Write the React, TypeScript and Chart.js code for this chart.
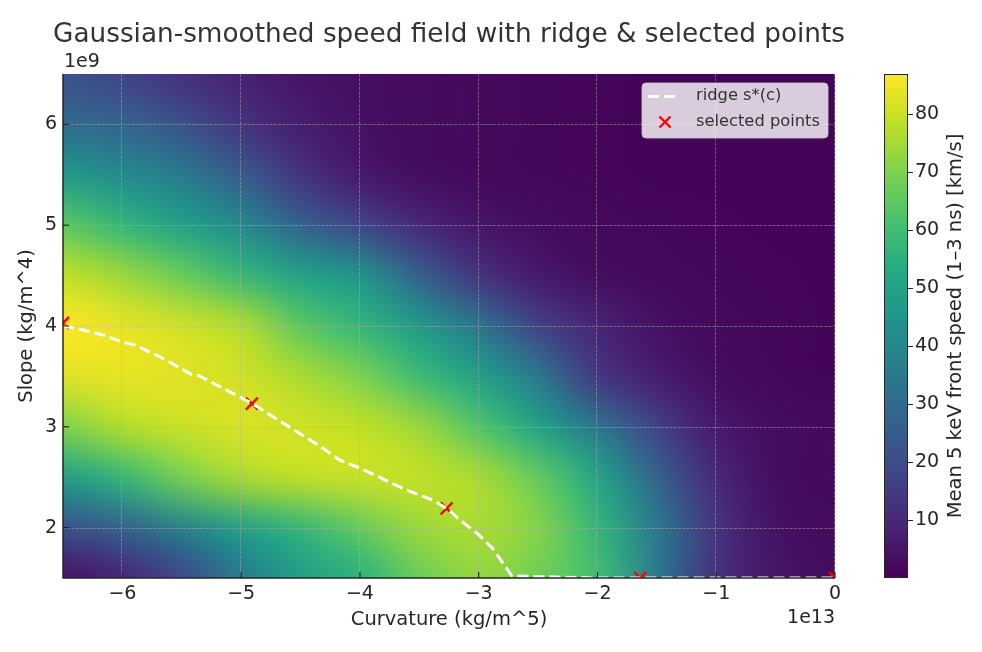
import { useEffect, useRef } from 'react';
import { Chart, registerables } from 'chart.js';

Chart.register(...registerables);

// grid nodes of the smoothed field (curvature in 1e13, slope in 1e9)
const curvature = [-6.5, -6, -5.5, -5, -4.5, -4, -3.5, -3, -2.5, -2, -1.5, -1, -0.5, 0];
const slope = [6.5, 6, 5.5, 5, 4.5, 4, 3.5, 3, 2.5, 2, 1.5];

// mean front speed [km/s], one row per slope value (top row = 6.5)
const speedS65 = [22, 17, 12, 8, 5, 3.5, 2.5, 2, 1.5, 1.2, 1, 1, 1, 1];
const speedS60 = [30, 28, 22, 13, 7, 4, 2.5, 2, 1.5, 1.2, 1, 1, 1, 1];
const speedS55 = [47, 41, 36, 25, 13, 6, 3, 2, 1.5, 1.2, 1, 1, 1, 1];
const speedS50 = [65, 57, 49, 41, 27, 18, 10, 5, 3, 2, 1.5, 1.2, 1, 1];
const speedS45 = [79, 74, 67, 58, 50, 45, 27, 13, 6, 3, 2, 1.5, 1.2, 1];
const speedS40 = [87, 84, 81, 77, 65, 57, 47, 34, 17, 9, 4, 2, 1.5, 1];
const speedS35 = [83, 84, 83, 81, 76, 70, 59, 49, 35, 14, 7, 3, 1.5, 1];
const speedS30 = [70, 77, 80, 82, 81, 79, 74, 63, 50, 34, 17, 6, 3, 2];
const speedS25 = [48, 57, 69, 76, 79, 80, 79, 76, 66, 51, 28, 10, 3, 2];
const speedS20 = [22, 27, 38, 49, 57, 66, 74, 76, 71, 57, 35, 13, 4, 2.5];
const speedS15 = [4, 9, 18, 35, 48, 55, 67, 73, 68, 60, 35, 12, 5, 3];
const speedRows = [speedS65, speedS60, speedS55, speedS50, speedS45, speedS40, speedS35, speedS30, speedS25, speedS20, speedS15];

const ridgeC = [-6.5, -6.33, -6.16, -6.0, -5.89, -5.66, -5.42, -5.36, -5.15, -4.92, -4.65, -4.34, -4.17, -4.0, -3.87, -3.75, -3.6, -3.38, -3.27, -3.13, -3.01, -2.88, -2.72, -2.0, -1.0, 0];
const ridgeS = [4.0, 3.96, 3.91, 3.84, 3.81, 3.68, 3.52, 3.51, 3.38, 3.24, 3.04, 2.81, 2.67, 2.59, 2.52, 2.45, 2.37, 2.27, 2.19, 2.05, 1.94, 1.79, 1.52, 1.5, 1.5, 1.5];

const selectedC = [-6.5, -4.91, -3.27, -1.64, 0];
const selectedS = [4.03, 3.23, 2.19, 1.5, 1.5];

const xTicks = [-6, -5, -4, -3, -2, -1, 0];
const yTicks = [2, 3, 4, 5, 6];
const cbTicks = [10, 20, 30, 40, 50, 60, 70, 80];
const cbMax = 87;

const FONT = 'DejaVu Sans';
const TEXT = '#262626';

const viridisStops = ['#440154', '#482475', '#414487', '#355f8d', '#2a788e', '#21918c', '#22a884', '#44bf70', '#7ad151', '#bddf26', '#fde725'];
const viridisRgb = viridisStops.map(h => [1, 3, 5].map(k => parseInt(h.slice(k, k + 2), 16)));

function viridis(t: number) {
    const p = Math.max(0, Math.min(1, t)) * 10;
    const i = Math.min(9, Math.floor(p));
    const f = p - i;
    const a = viridisRgb[i], b = viridisRgb[i + 1];
    return a.map((v, k) => Math.round(v + (b[k] - v) * f));
}

const fmt = (v: number) => (v < 0 ? '\u2212' + Math.abs(v) : String(v));

const heatmapPlugin = {
    id: 'heatmap',
    beforeDatasetsDraw(chart: any) {
        const { ctx, chartArea, scales } = chart;
        const { x, y } = scales;
        const nx = curvature.length, ny = slope.length;
        const off = document.createElement('canvas');
        off.width = nx; off.height = ny;
        const octx = off.getContext('2d')!;
        const img = octx.createImageData(nx, ny);
        speedRows.forEach((row, j) => row.forEach((v, i) => {
            const [r, g, b] = viridis(v / cbMax);
            const k = (j * nx + i) * 4;
            img.data[k] = r; img.data[k + 1] = g; img.data[k + 2] = b; img.data[k + 3] = 255;
        }));
        octx.putImageData(img, 0, 0);

        const hx = (curvature[1] - curvature[0]) / 2;
        const hy = (slope[0] - slope[1]) / 2;
        const left = x.getPixelForValue(curvature[0] - hx);
        const right = x.getPixelForValue(curvature[nx - 1] + hx);
        const top = y.getPixelForValue(slope[0] + hy);
        const bottom = y.getPixelForValue(slope[ny - 1] - hy);

        ctx.save();
        ctx.beginPath();
        ctx.rect(chartArea.left, chartArea.top, chartArea.right - chartArea.left, chartArea.bottom - chartArea.top);
        ctx.clip();
        ctx.imageSmoothingEnabled = true;
        ctx.imageSmoothingQuality = 'high';
        ctx.drawImage(off, left, top, right - left, bottom - top);

        // dashed grid on top of the image
        ctx.strokeStyle = 'rgba(176,176,176,0.6)';
        ctx.lineWidth = 0.8;
        ctx.setLineDash([3, 1.3]);
        xTicks.forEach(v => {
            const px = Math.round(x.getPixelForValue(v)) - 0.5;
            ctx.beginPath(); ctx.moveTo(px, chartArea.top); ctx.lineTo(px, chartArea.bottom); ctx.stroke();
        });
        yTicks.forEach(v => {
            const py = Math.round(y.getPixelForValue(v)) + 0.5;
            ctx.beginPath(); ctx.moveTo(chartArea.left, py); ctx.lineTo(chartArea.right, py); ctx.stroke();
        });
        ctx.restore();
    }
};

function drawX(ctx: CanvasRenderingContext2D, cx: number, cy: number, h: number) {
    ctx.beginPath();
    ctx.moveTo(cx - h, cy - h); ctx.lineTo(cx + h, cy + h);
    ctx.moveTo(cx - h, cy + h); ctx.lineTo(cx + h, cy - h);
    ctx.stroke();
}

const overlayPlugin = {
    id: 'overlay',
    afterDraw(chart: any) {
        const { ctx, chartArea, scales } = chart;
        const { x, y } = scales;
        const { left, right, top, bottom } = chartArea;
        ctx.save();

        // left & bottom spines, inward ticks
        ctx.strokeStyle = TEXT;
        ctx.lineWidth = 1.5;
        ctx.beginPath();
        ctx.moveTo(left, top); ctx.lineTo(left, bottom); ctx.lineTo(right, bottom);
        ctx.stroke();
        ctx.lineWidth = 1.2;
        xTicks.forEach(v => {
            const px = x.getPixelForValue(v);
            ctx.beginPath(); ctx.moveTo(px, bottom); ctx.lineTo(px, bottom - 6); ctx.stroke();
        });
        yTicks.forEach(v => {
            const py = y.getPixelForValue(v);
            ctx.beginPath(); ctx.moveTo(left, py); ctx.lineTo(left + 6, py); ctx.stroke();
        });

        // texts
        ctx.fillStyle = '#333333';
        ctx.textBaseline = 'middle';
        ctx.textAlign = 'center';
        ctx.font = `26.3px "${FONT}"`;
        ctx.fillText('Gaussian-smoothed speed field with ridge & selected points', (left + right) / 2, 35);
        ctx.fillStyle = TEXT;
        ctx.font = `19.5px "${FONT}"`;
        ctx.fillText('Curvature (kg/m^5)', (left + right) / 2, 620);
        ctx.save();
        ctx.translate(27, (top + bottom) / 2);
        ctx.rotate(-Math.PI / 2);
        ctx.fillText('Slope (kg/m^4)', 0, 0);
        ctx.restore();
        ctx.font = `19px "${FONT}"`;
        ctx.textAlign = 'left';
        ctx.fillText('1e9', left + 1, 62);
        ctx.textAlign = 'right';
        ctx.fillText('1e13', right, 618);

        // legend
        const lx = 642, ly = 83, lw = 186, lh = 55;
        ctx.beginPath();
        ctx.roundRect(lx, ly, lw, lh, 4);
        ctx.fillStyle = 'rgba(255,255,255,0.8)';
        ctx.fill();
        ctx.strokeStyle = 'rgba(204,204,204,0.8)';
        ctx.lineWidth = 1;
        ctx.stroke();
        ctx.strokeStyle = '#ffffff';
        ctx.lineWidth = 3;
        ctx.setLineDash([11, 5]);
        ctx.beginPath(); ctx.moveTo(648, 96.5); ctx.lineTo(679, 96.5); ctx.stroke();
        ctx.setLineDash([]);
        ctx.strokeStyle = '#ff0000';
        ctx.lineWidth = 2.4;
        drawX(ctx, 665, 122, 5.5);
        ctx.fillStyle = '#333333';
        ctx.textAlign = 'left';
        ctx.font = `16.3px "${FONT}"`;
        ctx.fillText('ridge s*(c)', 696, 96);
        ctx.fillText('selected points', 696, 122);
        ctx.restore();
    }
};

const colorbarPlugin = {
    id: 'colorbar',
    afterDraw(chart: any) {
        const { ctx, chartArea } = chart;
        const { left, right, top, bottom } = chartArea;
        ctx.save();
        const grad = ctx.createLinearGradient(0, bottom, 0, top);
        viridisStops.forEach((c, k) => grad.addColorStop(k / 10, c));
        ctx.fillStyle = grad;
        ctx.fillRect(left, top, right - left, bottom - top);
        ctx.strokeStyle = TEXT;
        ctx.lineWidth = 1;
        ctx.strokeRect(left + 0.5, top + 0.5, right - left - 1, bottom - top - 1);
        ctx.fillStyle = TEXT;
        ctx.font = `19.5px "${FONT}"`;
        ctx.textAlign = 'center';
        ctx.textBaseline = 'middle';
        ctx.translate(956, (top + bottom) / 2);
        ctx.rotate(-Math.PI / 2);
        ctx.fillText('Mean 5 keV front speed (1\u20133 ns) [km/s]', 0, 0);
        ctx.restore();
    }
};

export default function App() {
    const mainRef = useRef<HTMLCanvasElement>(null);
    const cbRef = useRef<HTMLCanvasElement>(null);

    useEffect(() => {
        if (!mainRef.current || !cbRef.current) return;
        const tickFont = { family: FONT, size: 19 };

        const main = new Chart(mainRef.current, {
            type: 'scatter',
            data: {
                datasets: [
                    {
                        label: 'ridge s*(c)',
                        data: ridgeC.map((c, i) => ({ x: c, y: ridgeS[i] })),
                        showLine: true,
                        borderColor: '#ffffff',
                        borderWidth: 3,
                        borderDash: [11, 5],
                        pointRadius: 0,
                        tension: 0,
                        clip: 0
                    },
                    {
                        label: 'selected points',
                        data: selectedC.map((c, i) => ({ x: c, y: selectedS[i] })),
                        pointStyle: 'crossRot',
                        pointRadius: 8.5,
                        borderColor: '#ff0000',
                        backgroundColor: '#ff0000',
                        borderWidth: 2.4,
                        clip: 0
                    }
                ]
            },
            options: {
                animation: false,
                responsive: false,
                layout: { padding: { left: 0, top: 74, right: 147, bottom: 0 } },
                plugins: { legend: { display: false }, tooltip: { enabled: false }, title: { display: false } },
                scales: {
                    x: {
                        type: 'linear', min: -6.5, max: 0,
                        afterBuildTicks: (s: any) => { s.ticks = xTicks.map(v => ({ value: v })); },
                        afterFit: (s: any) => { s.height = 74; },
                        grid: { display: false, drawTicks: false },
                        border: { display: false },
                        ticks: { font: tickFont, color: TEXT, padding: 5, autoSkip: false, maxRotation: 0, callback: (v: any) => fmt(Number(v)) }
                    },
                    y: {
                        type: 'linear', min: 1.5, max: 6.5,
                        afterBuildTicks: (s: any) => { s.ticks = yTicks.map(v => ({ value: v })); },
                        afterFit: (s: any) => { s.width = 63; },
                        grid: { display: false, drawTicks: false },
                        border: { display: false },
                        ticks: { font: tickFont, color: TEXT, padding: 6, autoSkip: false, callback: (v: any) => fmt(Number(v)) }
                    }
                }
            },
            plugins: [heatmapPlugin, overlayPlugin]
        } as any);

        const cb = new Chart(cbRef.current, {
            type: 'scatter',
            data: { datasets: [] },
            options: {
                animation: false,
                responsive: false,
                layout: { padding: { left: 884, top: 74, right: 0, bottom: 74 } },
                plugins: { legend: { display: false }, tooltip: { enabled: false } },
                scales: {
                    x: { display: false, min: 0, max: 1 },
                    y: {
                        position: 'right', min: 0, max: cbMax,
                        afterBuildTicks: (s: any) => { s.ticks = cbTicks.map(v => ({ value: v })); },
                        afterFit: (s: any) => { s.width = 74; },
                        grid: { drawOnChartArea: false, drawTicks: true, tickLength: 5, color: TEXT, lineWidth: 1 },
                        border: { display: false },
                        ticks: { font: tickFont, color: TEXT, padding: 2, autoSkip: false }
                    }
                }
            },
            plugins: [colorbarPlugin]
        } as any);

        return () => { main.destroy(); cb.destroy(); };
    }, []);

    return (
        <div style={{ position: 'fixed', left: 0, top: 0, width: 982, height: 652, background: '#ffffff' }}>
            <canvas ref={mainRef} width={982} height={652} style={{ position: 'absolute', left: 0, top: 0 }} />
            <canvas ref={cbRef} width={982} height={652} style={{ position: 'absolute', left: 0, top: 0 }} />
        </div>
    );
}
